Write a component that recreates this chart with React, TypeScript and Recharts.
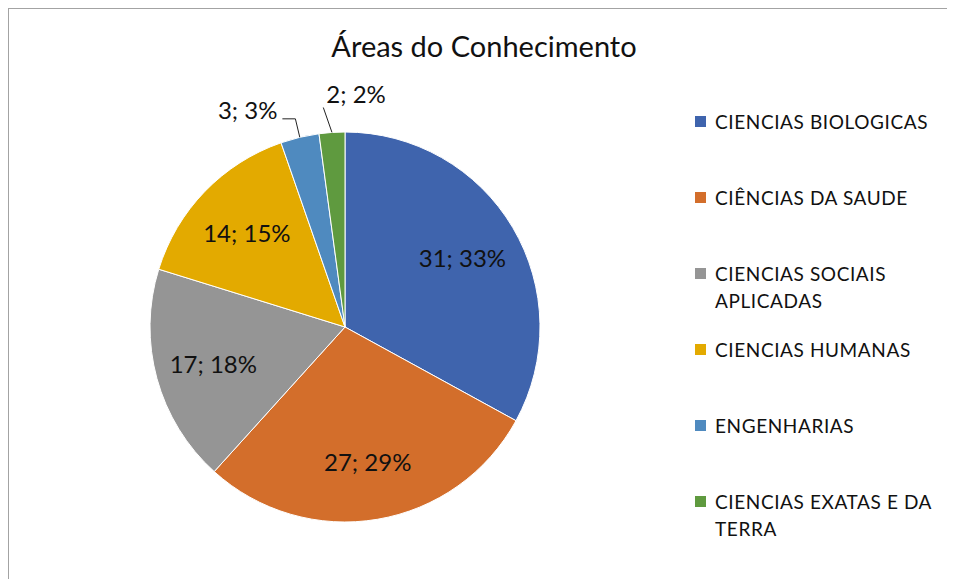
import React from 'react';
import { PieChart, Pie, Cell, Legend } from 'recharts';

// Areas and counts
const areas = [
  'CIENCIAS BIOLOGICAS',
  'CIÊNCIAS DA SAUDE',
  'CIENCIAS SOCIAIS APLICADAS',
  'CIENCIAS HUMANAS',
  'ENGENHARIAS',
  'CIENCIAS EXATAS E DA TERRA',
];
const counts = [31, 27, 17, 14, 3, 2];
const colors = ['#3f64ad', '#d36e2b', '#959595', '#e3aa00', '#4f8abf', '#5f9a3f'];

const data = areas.map((name, i) => ({ name, value: counts[i] }));

const FONT = 'Lato, "Liberation Sans", sans-serif';
const RADIAN = Math.PI / 180;

const renderLabel = (props: any) => {
  const { cx, cy, midAngle, outerRadius, percent, value } = props;
  const cos = Math.cos(-midAngle * RADIAN);
  const sin = Math.sin(-midAngle * RADIAN);
  const angle = ((midAngle % 360) + 360) % 360;
  const text = `${value}; ${Math.round(percent * 100)}%`;

  if (percent >= 0.05) {
    const r = outerRadius * 0.7;
    return (
      <text
        x={cx + r * cos}
        y={cy + r * sin}
        fill="#111"
        fontSize={24}
        fontFamily={FONT}
        textAnchor="middle"
        dominantBaseline="central"
      >
        {text}
      </text>
    );
  }

  // small slices: leader line out to a label above the pie
  const x0 = cx + outerRadius * cos;
  const y0 = cy + outerRadius * sin;
  if (angle > 100) {
    const x1 = cx + (outerRadius + 19) * cos;
    const y1 = cy + (outerRadius + 19) * sin;
    return (
      <g>
        <polyline points={`${x0},${y0} ${x1},${y1} ${x1 - 13},${y1}`} fill="none" stroke="#222" strokeWidth={1} />
        <text x={x1 - 18} y={y1 - 9} fill="#111" fontSize={24} fontFamily={FONT} textAnchor="end" dominantBaseline="central">
          {text}
        </text>
      </g>
    );
  }
  const x1 = cx + (outerRadius + 25) * cos - 7;
  const y1 = cy + (outerRadius + 25) * sin;
  return (
    <g>
      <line x1={x0} y1={y0} x2={x1} y2={y1} stroke="#222" strokeWidth={1} />
      <text x={x1 + 3} y={y1 - 14} fill="#111" fontSize={24} fontFamily={FONT} textAnchor="start" dominantBaseline="central">
        {text}
      </text>
    </g>
  );
};

const renderLegend = (props: any) => {
  const { payload } = props;
  return (
    <div style={{ fontFamily: FONT }}>
      {payload.map((entry: any) => (
        <div key={entry.value} style={{ display: 'flex', alignItems: 'flex-start', height: 76 }}>
          <span
            style={{
              display: 'inline-block',
              width: 11,
              height: 11,
              marginTop: 8,
              marginRight: 9,
              background: colors[areas.indexOf(entry.value)],
              flexShrink: 0,
            }}
          />
          <span style={{ fontSize: 19, lineHeight: '27px', color: '#111', letterSpacing: 0.6, width: 234 }}>
            {entry.value}
          </span>
        </div>
      ))}
    </div>
  );
};

const App = () => {
  return (
    <div style={{ position: 'relative', width: 947, height: 571, background: '#fff' }}>
      <div
        style={{
          position: 'absolute',
          left: -1,
          top: -1,
          width: 948,
          height: 572,
          borderTop: '2px solid #a3a3a3',
          borderLeft: '2px solid #a3a3a3',
          boxSizing: 'border-box',
        }}
      />
      <div
        style={{
          position: 'absolute',
          left: 476,
          top: 23,
          transform: 'translateX(-50%)',
          fontFamily: FONT,
          fontSize: 29,
          lineHeight: '29px',
          color: '#111',
          whiteSpace: 'nowrap',
        }}
      >
        Áreas do Conhecimento
      </div>
      <PieChart
        width={947}
        height={571}
        margin={{ top: 0, right: 0, bottom: 0, left: 0 }}
        style={{ position: 'absolute', left: 0, top: 0 }}
      >
        <Pie
          data={data}
          dataKey="value"
          nameKey="name"
          cx={337}
          cy={319}
          outerRadius={195}
          startAngle={90}
          endAngle={-270}
          stroke="#ffffff"
          strokeWidth={1}
          label={renderLabel}
          labelLine={false}
          isAnimationActive={false}
        >
          {data.map((d, i) => (
            <Cell key={d.name} fill={colors[i]} />
          ))}
        </Pie>
        <Legend
          layout="vertical"
          align="right"
          verticalAlign="top"
          itemSorter={null}
          content={renderLegend}
          wrapperStyle={{ left: 687, top: 100, width: 260, right: 'auto' }}
        />
      </PieChart>
    </div>
  );
};

export default App;
